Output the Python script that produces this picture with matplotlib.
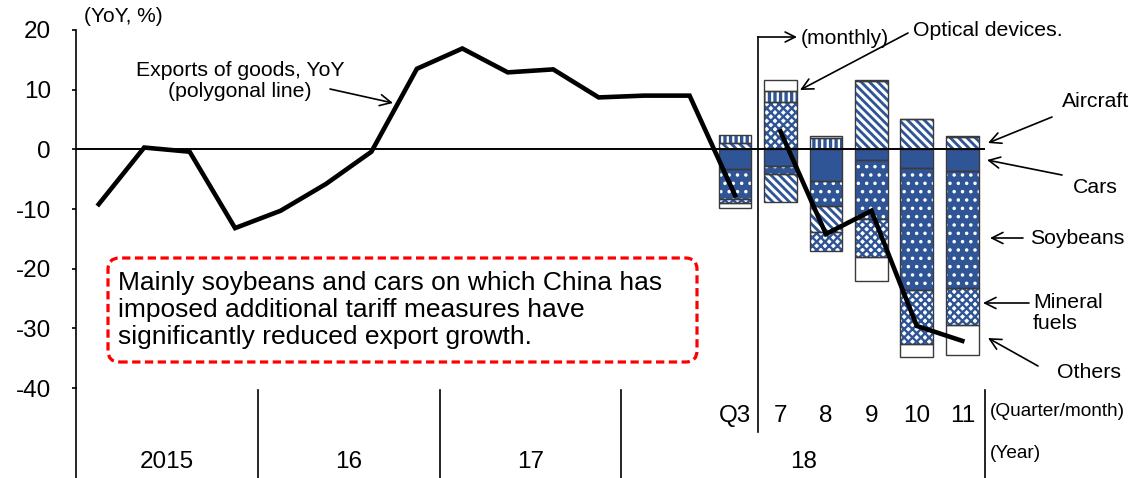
import matplotlib
matplotlib.use("Agg")
import matplotlib.pyplot as plt
from matplotlib.patches import FancyBboxPatch
import numpy as np

plt.rcParams['font.family'] = ['Liberation Sans', 'DejaVu Sans']
plt.rcParams['axes.unicode_minus'] = False

# ---------------- data ----------------
quarter_yoy = [-9.2, 0.3, -0.4, -13.2, -10.3, -5.8, -0.4, 13.5,
               16.9, 12.9, 13.4, 8.7, 9.0, 9.0, -7.7]          # 2015Q1 .. 2018Q3
month_yoy = [3.0, -14.2, -10.3, -29.6, -32.1]                     # 2018 Jul .. Nov

bar_labels = ['Q3', '7', '8', '9', '10', '11']
cars = [-3.3, -2.8, -5.3, -1.8, -3.2, -3.7]
soybeans = [-5.1, -1.3, -4.2, -9.8, -20.4, -19.5]
aircraft = [1.0, -4.7, -4.3, 11.4, 5.1, 2.0]
mineral = [-0.6, 7.9, -3.2, -6.4, -9.1, -6.3]
optical = [1.4, 1.8, 1.9, 0.3, 0.0, 0.2]
others = [-0.8, 1.9, 0.4, -4.1, -2.1, -4.9]

year_labels = ['2015', '16', '17', '18']
year_spans = [(0, 3), (4, 7), (8, 11), (12, 19)]

BLUE = '#2F5597'

# ---------------- figure ----------------
W, H = 1129, 478
fig = plt.figure(figsize=(W / 100, H / 100), dpi=100)
AX_L, AX_R, AX_T, AX_B = 76, 985, 30, 388
ax = fig.add_axes([AX_L / W, 1 - AX_B / H, (AX_R - AX_L) / W, (AX_B - AX_T) / H])

n_cat = len(quarter_yoy) + len(month_yoy)
ax.set_xlim(-0.5, n_cat - 0.5)
ax.set_ylim(-40, 20)

def px2x(px):
    return (px - AX_L) / (AX_R - AX_L) * n_cat - 0.5

def py2y(py):
    return 20 - (py - AX_T) / (AX_B - AX_T) * 60

# ---------------- stacked bars ----------------
bar_x = np.arange(len(quarter_yoy) - 1, n_cat)
series = [
    (cars, dict(facecolor=BLUE, hatch=None, hcolor=BLUE, hlw=1.0)),
    (soybeans, dict(facecolor=BLUE, hatch='..', hcolor='white', hlw=1.3)),
    (aircraft, dict(facecolor=BLUE, hatch='\\\\\\\\', hcolor='white', hlw=2.2)),
    (mineral, dict(facecolor='white', hatch='xxxx', hcolor=BLUE, hlw=1.7)),
    (optical, dict(facecolor='white', hatch='|||', hcolor=BLUE, hlw=2.4)),
    (others, dict(facecolor='white', hatch=None, hcolor='white', hlw=1.0)),
]
pos_base = np.zeros(len(bar_x))
neg_base = np.zeros(len(bar_x))
BW = 0.72
for vals, st in series:
    v = np.array(vals, dtype=float)
    bottoms = np.where(v >= 0, pos_base, neg_base)
    with plt.rc_context({'hatch.linewidth': st['hlw']}):
        bars = ax.bar(bar_x, v, BW, bottom=bottoms, color=st['facecolor'],
                      edgecolor=st['hcolor'], linewidth=0, hatch=st['hatch'], zorder=2)
    for p in bars:
        if hasattr(p, 'set_hatch_linewidth'):
            p.set_hatch_linewidth(st['hlw'])
    ax.bar(bar_x, v, BW, bottom=bottoms, fill=False, edgecolor='#3a3a3a',
           linewidth=1.0, zorder=3)
    pos_base = pos_base + np.where(v >= 0, v, 0)
    neg_base = neg_base + np.where(v < 0, v, 0)

# ---------------- lines ----------------
ax.axhline(0, color='black', lw=1.4, zorder=4)
ax.plot(np.arange(len(quarter_yoy)), quarter_yoy, color='black', lw=3.3, zorder=5,
        solid_joinstyle='miter')
ax.plot(np.arange(len(quarter_yoy), n_cat), month_yoy, color='black', lw=3.3, zorder=5,
        solid_joinstyle='miter')

# ---------------- axes styling ----------------
for s in ['top', 'right', 'bottom']:
    ax.spines[s].set_visible(False)
ax.spines['left'].set_linewidth(1.2)
ax.set_yticks(range(-40, 21, 10))
ax.tick_params(axis='y', direction='out', length=3, width=1.2, labelsize=17.5, pad=15)
ax.set_xticks(bar_x, bar_labels)
ax.tick_params(axis='x', length=0, labelsize=17.5, pad=12)

# separators below axes
y_bot = py2y(478)
y_sep = py2y(390)
for xs in [-0.5, 3.5, 7.5, 11.5, n_cat - 0.5]:
    ax.plot([xs, xs], [y_sep if xs > -0.5 else -40, y_bot], color='black', lw=1.2,
            clip_on=False, zorder=6)
# monthly divider with arrow
ax.plot([14.5, 14.5], [py2y(432), py2y(37)], color='black', lw=1.2, clip_on=False, zorder=6)
ax.annotate('', xy=(px2x(797), py2y(37)), xytext=(14.5, py2y(37)),
            arrowprops=dict(arrowstyle='->', lw=1.2, color='black', mutation_scale=18,
                            shrinkA=0, shrinkB=0), annotation_clip=False)
ax.text(px2x(801), py2y(38), '(monthly)', fontsize=15.2, ha='left', va='center')

for lab, (a, b) in zip(year_labels, year_spans):
    ax.text((a + b) / 2, py2y(462), lab, fontsize=17.5, ha='center', va='center',
            clip_on=False)
ax.text(px2x(990), py2y(412), '(Quarter/month)', fontsize=13.7, ha='left', va='center')
ax.text(px2x(990), py2y(453), '(Year)', fontsize=13.7, ha='left', va='center')
fig.text(84 / W, 1 - 17 / H, '(YoY, %)', fontsize=15, ha='left', va='center')

# ---------------- annotations ----------------
arr = dict(arrowstyle='->', lw=1.2, color='black', mutation_scale=20, shrinkA=0, shrinkB=0)

def note(text, tx, ty, sx, sy, ex, ey, ha='left', fs=15.3):
    ax.text(px2x(tx), py2y(ty), text, fontsize=fs, ha=ha, va='center',
            linespacing=1.1)
    ax.annotate('', xy=(px2x(ex), py2y(ey)), xytext=(px2x(sx), py2y(sy)),
                arrowprops=arr, annotation_clip=False)

note('Exports of goods, YoY\n(polygonal line)', 240, 81, 330, 89, 393, 103, ha='center')
note('Optical devices.', 913, 30, 908, 33, 800, 90)
note('Aircraft', 1062, 101, 1052, 117, 988, 143)
note('Cars', 1073, 187, 1062, 175, 987, 160)
note('Soybeans', 1030, 238, 1023, 238, 990, 238)
note('Mineral\nfuels', 1033, 313, 1029, 303, 983, 303)
note('Others', 1057, 373, 1038, 366, 988, 338)

# ---------------- red dashed box ----------------
bx0, bx1, by0, by1 = 108, 697, 258, 362
box = FancyBboxPatch((px2x(bx0), py2y(by1)), px2x(bx1) - px2x(bx0), py2y(by0) - py2y(by1),
                     boxstyle='round,pad=0,rounding_size=0.25', mutation_aspect=60 / 358 * 909 / 20,
                     facecolor='white', edgecolor='#FF0000', lw=2.3,
                     linestyle=(0, (2.6, 1.4)), zorder=6)
ax.add_patch(box)
ax.text(px2x(118), py2y(310),
        'Mainly soybeans and cars on which China has\n'
        'imposed additional tariff measures have\n'
        'significantly reduced export growth.',
        fontsize=19, ha='left', va='center', linespacing=1.15, zorder=7)

fig.savefig('out.png', dpi=100)
